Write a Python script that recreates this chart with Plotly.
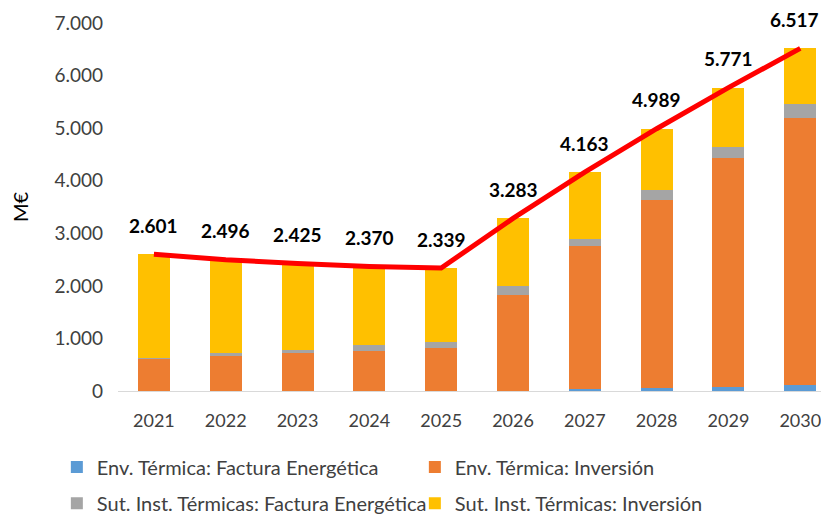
import plotly.graph_objects as go

years = ["2021", "2022", "2023", "2024", "2025", "2026", "2027", "2028", "2029", "2030"]
env_factura = [0, 0, 0, 0, 0, 5, 40, 55, 80, 118]
env_inversion = [610, 670, 715, 765, 822, 1817, 2710, 3570, 4355, 5077]
sut_factura = [20, 57, 63, 108, 114, 170, 150, 196, 215, 265]
sut_inversion = [1971, 1769, 1647, 1497, 1403, 1291, 1263, 1168, 1121, 1057]
totals = [2601, 2496, 2425, 2370, 2339, 3283, 4163, 4989, 5771, 6517]
y_ticks = [0, 1000, 2000, 3000, 4000, 5000, 6000, 7000]

FONT = "Lato, sans-serif"
TXT = "#404040"

fig = go.Figure()
series = [
    ("Env. Térmica: Factura Energética", env_factura, "#5B9BD5", "legend"),
    ("Env. Térmica: Inversión", env_inversion, "#ED7D31", "legend"),
    ("Sut. Inst. Térmicas: Factura Energética", sut_factura, "#A5A5A5", "legend2"),
    ("Sut. Inst. Térmicas: Inversión", sut_inversion, "#FFC000", "legend2"),
]
for name, vals, col, lg in series:
    fig.add_trace(go.Bar(x=years, y=vals, name=name, marker_color=col,
                         marker_line_width=0, legend=lg))

fig.add_trace(go.Scatter(x=years, y=totals, mode="lines", showlegend=False,
                         line=dict(color="#FF0000", width=5)))

# category index used as x so numeric-looking category names are not misread
for i, v in enumerate(totals):
    fig.add_annotation(x=i, y=v, xref="x", yref="y",
                       text="<b>" + f"{v:,}".replace(",", ".") + "</b>",
                       showarrow=False, yshift=29, yanchor="middle",
                       xshift=-6 if i == len(totals) - 1 else 0,
                       font=dict(family=FONT, size=19, color="#000000"))

fig.update_layout(
    barmode="stack",
    bargap=0.555,
    width=821, height=518,
    margin=dict(l=110, r=0, t=15, b=135),
    plot_bgcolor="white", paper_bgcolor="white",
    separators=",.",
    font=dict(family=FONT, size=19, color=TXT),
    xaxis=dict(type="category", range=[-0.5, 9.4], showgrid=False, showline=True,
               linecolor="#D9D9D9", linewidth=1, ticks="",
               ticklabelstandoff=13,
               tickfont=dict(size=18, color=TXT)),
    yaxis=dict(range=[0, 7000], tickvals=y_ticks, tickformat=",d",
               showgrid=False, zeroline=False, showline=False,
               ticklabelstandoff=14,
               tickfont=dict(size=19, color=TXT),
               title=dict(text="M€", font=dict(size=20, color="#000000"), standoff=20)),
    legend=dict(orientation="h", x=-0.086, y=-0.2065, xanchor="left", yanchor="middle",
                entrywidth=313, entrywidthmode="pixels", traceorder="normal",
                font=dict(size=20, color=TXT), itemwidth=30),
    legend2=dict(orientation="h", x=-0.086, y=-0.305, xanchor="left", yanchor="middle",
                 entrywidth=313, entrywidthmode="pixels", traceorder="normal",
                 font=dict(size=20, color=TXT), itemwidth=30),
)

fig.write_html("out.html")
